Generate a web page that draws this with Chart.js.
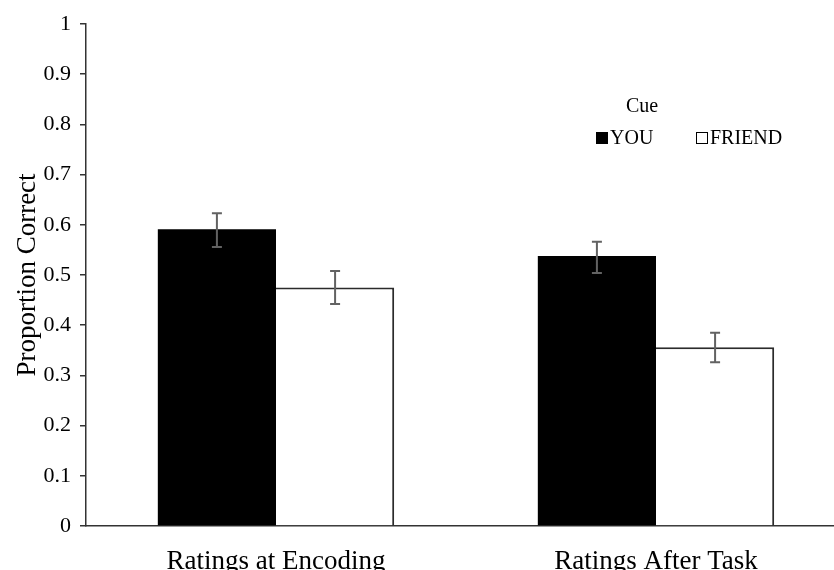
<!DOCTYPE html>
<html>
<head>
<meta charset="utf-8">
<script src="https://cdn.jsdelivr.net/npm/chart.js@4.4.1/dist/chart.umd.min.js"></script>
<style>
  html, body { margin: 0; padding: 0; background: #fff; overflow: hidden; }
  #wrap { width: 834px; height: 570px; overflow: hidden; }
</style>
</head>
<body>
<div id="wrap"><canvas id="cueChart" width="846" height="570"></canvas></div>
<script>
    // Values
    const categories = ['Ratings at Encoding', 'Ratings After Task'];
    const seriesNames = ['YOU', 'FRIEND'];
    const youMeans = [0.591, 0.538];
    const friendMeans = [0.475, 0.356];
    const youLow = [0.556, 0.504];
    const youHigh = [0.623, 0.566];
    const friendLow = [0.442, 0.326];
    const friendHigh = [0.508, 0.385];
    const yTicks = [0, 0.1, 0.2, 0.3, 0.4, 0.5, 0.6, 0.7, 0.8, 0.9, 1];

    const serif = '"Liberation Serif", "Times New Roman", serif';

    // error bars drawn from the low/high arrays through the y scale
    const errorBars = {
        id: 'errorBars',
        afterDatasetsDraw(chart) {
            const ctx = chart.ctx;
            const y = chart.scales.y;
            const ranges = [[youLow, youHigh], [friendLow, friendHigh]];
            ctx.save();
            ctx.strokeStyle = '#626262';
            ctx.lineWidth = 2;
            chart.data.datasets.forEach((ds, i) => {
                chart.getDatasetMeta(i).data.forEach((bar, j) => {
                    const top = y.getPixelForValue(ranges[i][1][j]);
                    const bot = y.getPixelForValue(ranges[i][0][j]);
                    ctx.beginPath();
                    ctx.moveTo(bar.x, top); ctx.lineTo(bar.x, bot);
                    ctx.moveTo(bar.x - 5, top); ctx.lineTo(bar.x + 5, top);
                    ctx.moveTo(bar.x - 5, bot); ctx.lineTo(bar.x + 5, bot);
                    ctx.stroke();
                });
            });
            ctx.restore();
        }
    };

    // "Cue" legend box inside the plot
    const cueLegend = {
        id: 'cueLegend',
        afterDraw(chart) {
            const ctx = chart.ctx;
            ctx.save();
            ctx.fillStyle = '#000';
            ctx.textBaseline = 'middle';
            ctx.font = '20px ' + serif;
            ctx.textAlign = 'center';
            ctx.fillText('Cue', 642, 107);
            ctx.textAlign = 'left';
            const xs = [596, 696];
            chart.data.datasets.forEach((ds, i) => {
                const x = xs[i], yy = 138;
                ctx.fillStyle = ds.backgroundColor;
                ctx.fillRect(x, yy - 6, 12, 12);
                ctx.strokeStyle = '#000';
                ctx.lineWidth = 1;
                ctx.strokeRect(x + 0.5, yy - 5.5, 11, 11);
                ctx.fillStyle = '#000';
                ctx.fillText(ds.label, x + 14, yy + 1);
            });
            ctx.restore();
        }
    };

    const ctx = document.getElementById('cueChart').getContext('2d');
    new Chart(ctx, {
        type: 'bar',
        data: {
            labels: categories,
            datasets: [
                {
                    label: seriesNames[0],
                    data: youMeans,
                    backgroundColor: '#000000',
                    borderColor: '#000000',
                    borderWidth: 0,
                    categoryPercentage: 0.622,
                    barPercentage: 1.0
                },
                {
                    label: seriesNames[1],
                    data: friendMeans,
                    backgroundColor: '#ffffff',
                    borderColor: '#2b2b2b',
                    borderWidth: { top: 2, right: 2, left: 0, bottom: 0 },
                    categoryPercentage: 0.622,
                    barPercentage: 1.0
                }
            ]
        },
        options: {
            responsive: false,
            animation: false,
            layout: { padding: { top: 24, right: 0, left: 0, bottom: 0 } },
            plugins: {
                legend: { display: false },
                tooltip: { enabled: false }
            },
            scales: {
                x: {
                    grid: { display: false, drawTicks: false },
                    border: { display: true, color: '#333', width: 1.5 },
                    ticks: { color: '#000', padding: 20, font: { family: serif, size: 27 } },
                    afterFit: s => { s.height = 44; }
                },
                y: {
                    min: 0,
                    max: 1,
                    afterBuildTicks: s => { s.ticks = yTicks.map(v => ({ value: v })); },
                    grid: { drawOnChartArea: false, drawTicks: true, tickLength: 6, tickColor: '#333', lineWidth: 1.5 },
                    border: { display: true, color: '#333', width: 1.5 },
                    ticks: {
                        color: '#000',
                        padding: 9,
                        font: { family: serif, size: 22 },
                        callback: v => String(Number(v.toFixed(1)))
                    },
                    title: {
                        display: true,
                        text: 'Proportion Correct',
                        color: '#000',
                        font: { family: serif, size: 27 },
                        padding: { top: 12, bottom: 0 }
                    },
                    afterFit: s => { s.width = 86; }
                }
            }
        },
        plugins: [errorBars, cueLegend]
    });
</script>
</body>
</html>
